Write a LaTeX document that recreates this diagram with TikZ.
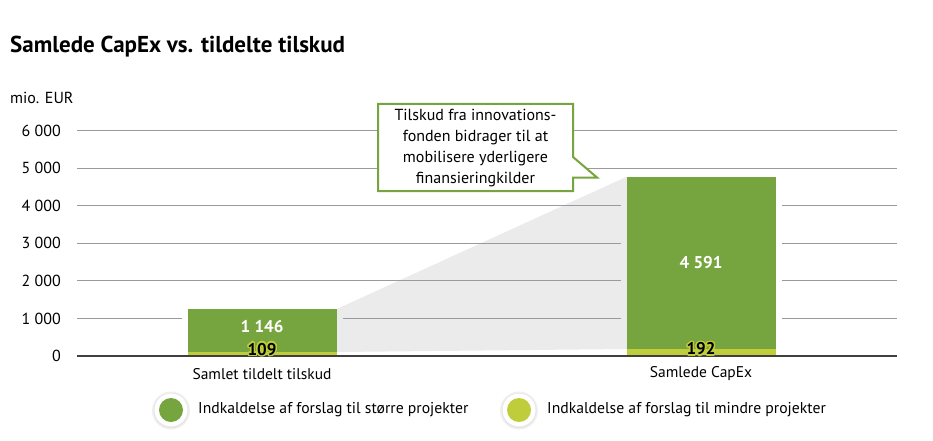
\documentclass[tikz,border=0pt]{standalone}
\usepackage{fontspec}
\setmainfont{PT Sans}
\usepackage[copies]{contour}
\contourlength{1.4pt}
\contournumber{24}
\definecolor{dgreen}{HTML}{76A53F}
\definecolor{lime}{HTML}{C0CD3A}
\definecolor{wedge}{HTML}{EBEBEB}
\definecolor{gridc}{HTML}{9A9A9A}
\definecolor{axisc}{HTML}{404040}
\tikzset{
  gridline/.style={draw=gridc, line width=1pt},
  ticklab/.style={anchor=east, font=\fontsize{16}{18}\selectfont, inner sep=0pt},
  catlab/.style={font=\fontsize{15.5}{18}\selectfont, inner sep=0pt},
  vallab/.style={font=\bfseries\fontsize{17}{19}\selectfont, text=white, inner sep=0pt},
  halolab/.style={font=\bfseries\fontsize{17}{19}\selectfont, inner sep=0pt, text=black},
  legtext/.style={anchor=west, font=\fontsize{15.7}{18}\selectfont, inner sep=0pt},
}
\begin{document}
\begin{tikzpicture}[x=1pt,y=-1pt]
\useasboundingbox[fill=white] (0,0) rectangle (933,441);
% title
\node[anchor=base west, inner sep=0pt, font=\bfseries\fontsize{23}{26}\selectfont] (title) at (10,53) {Samlede CapEx vs. tildelte tilskud};
\node[anchor=base west, inner sep=0pt, font=\fontsize{16}{18}\selectfont] (unit) at (10,103) {mio. EUR};
% wedge
\fill[wedge] (337,308.9) -- (627,176.6) -- (627,349) -- (337,352) -- cycle;
% gridlines
\foreach \v/\lab in {6/6 000,5/5 000,4/4 000,3/3 000,2/2 000,1/1 000}{
  \pgfmathsetmacro{\yy}{356-\v*37.57}
  \node[ticklab] (t\v) at (61,\yy) {\lab};
}
\draw[gridline] (77,130.6) -- (897,130.6);
\draw[gridline] (77,168.2) -- (897,168.2);
\draw[gridline] (77,205.7) -- (621,205.7) (782,205.7) -- (897,205.7);
\draw[gridline] (77,243.3) -- (621,243.3) (782,243.3) -- (897,243.3);
\draw[gridline] (77,280.9) -- (621,280.9) (782,280.9) -- (897,280.9);
\draw[gridline] (77,318.4) -- (182,318.4) (343,318.4) -- (621,318.4) (782,318.4) -- (897,318.4);
\node[ticklab] (t0) at (61,356) {0};
% bars
\fill[dgreen] (188,308.9) rectangle (337,352);
\fill[lime] (188,352) rectangle (337,356);
\fill[dgreen] (627,176.6) rectangle (776,348.8);
\fill[lime] (627,348.8) rectangle (776,356);
% axis
\draw[axisc, line width=1.2pt] (77,356) -- (897,356);
% value labels
\node[vallab] (v1) at (262,327) {1 146};
\node[vallab] (v2) at (701,263) {4 591};
\node[halolab] (h1) at (262,350) {\contour{lime}{109}};
\node[halolab] (h2) at (701,349.5) {\contour{lime}{192}};
% category labels
\node[catlab] (c1) at (262,374) {Samlet tildelt tilskud};
\node[catlab] (c2) at (701,374) {Samlede CapEx};
% callout
\draw[dgreen, line width=2pt, fill=white, line join=miter]
  (378,104) -- (573,104) -- (573,157) -- (597,177.5) -- (573,177.5) -- (573,191) -- (378,191) -- cycle;
\node[align=center, inner sep=0pt, font=\fontsize{16}{21}\selectfont] (callout) at (475.5,148) {Tilskud fra innovations-\\fonden bidrager til at\\mobilisere yderligere\\finansieringkilder};
% legend
\foreach \cx/\col/\nm in {171/dgreen/l1, 519/lime/l2}{
  \fill[black!6] (\cx,410.5) circle (19);
  \fill[black!10] (\cx,410.5) circle (17.5);
  \fill[white] (\cx,410) circle (16.5);
  \fill[\col] (\cx,410) circle (12);
}
\node[legtext] (lt1) at (198,410) {Indkaldelse af forslag til større projekter};
\node[legtext] (lt2) at (547,410) {Indkaldelse af forslag til mindre projekter};
\end{tikzpicture}
\end{document}
